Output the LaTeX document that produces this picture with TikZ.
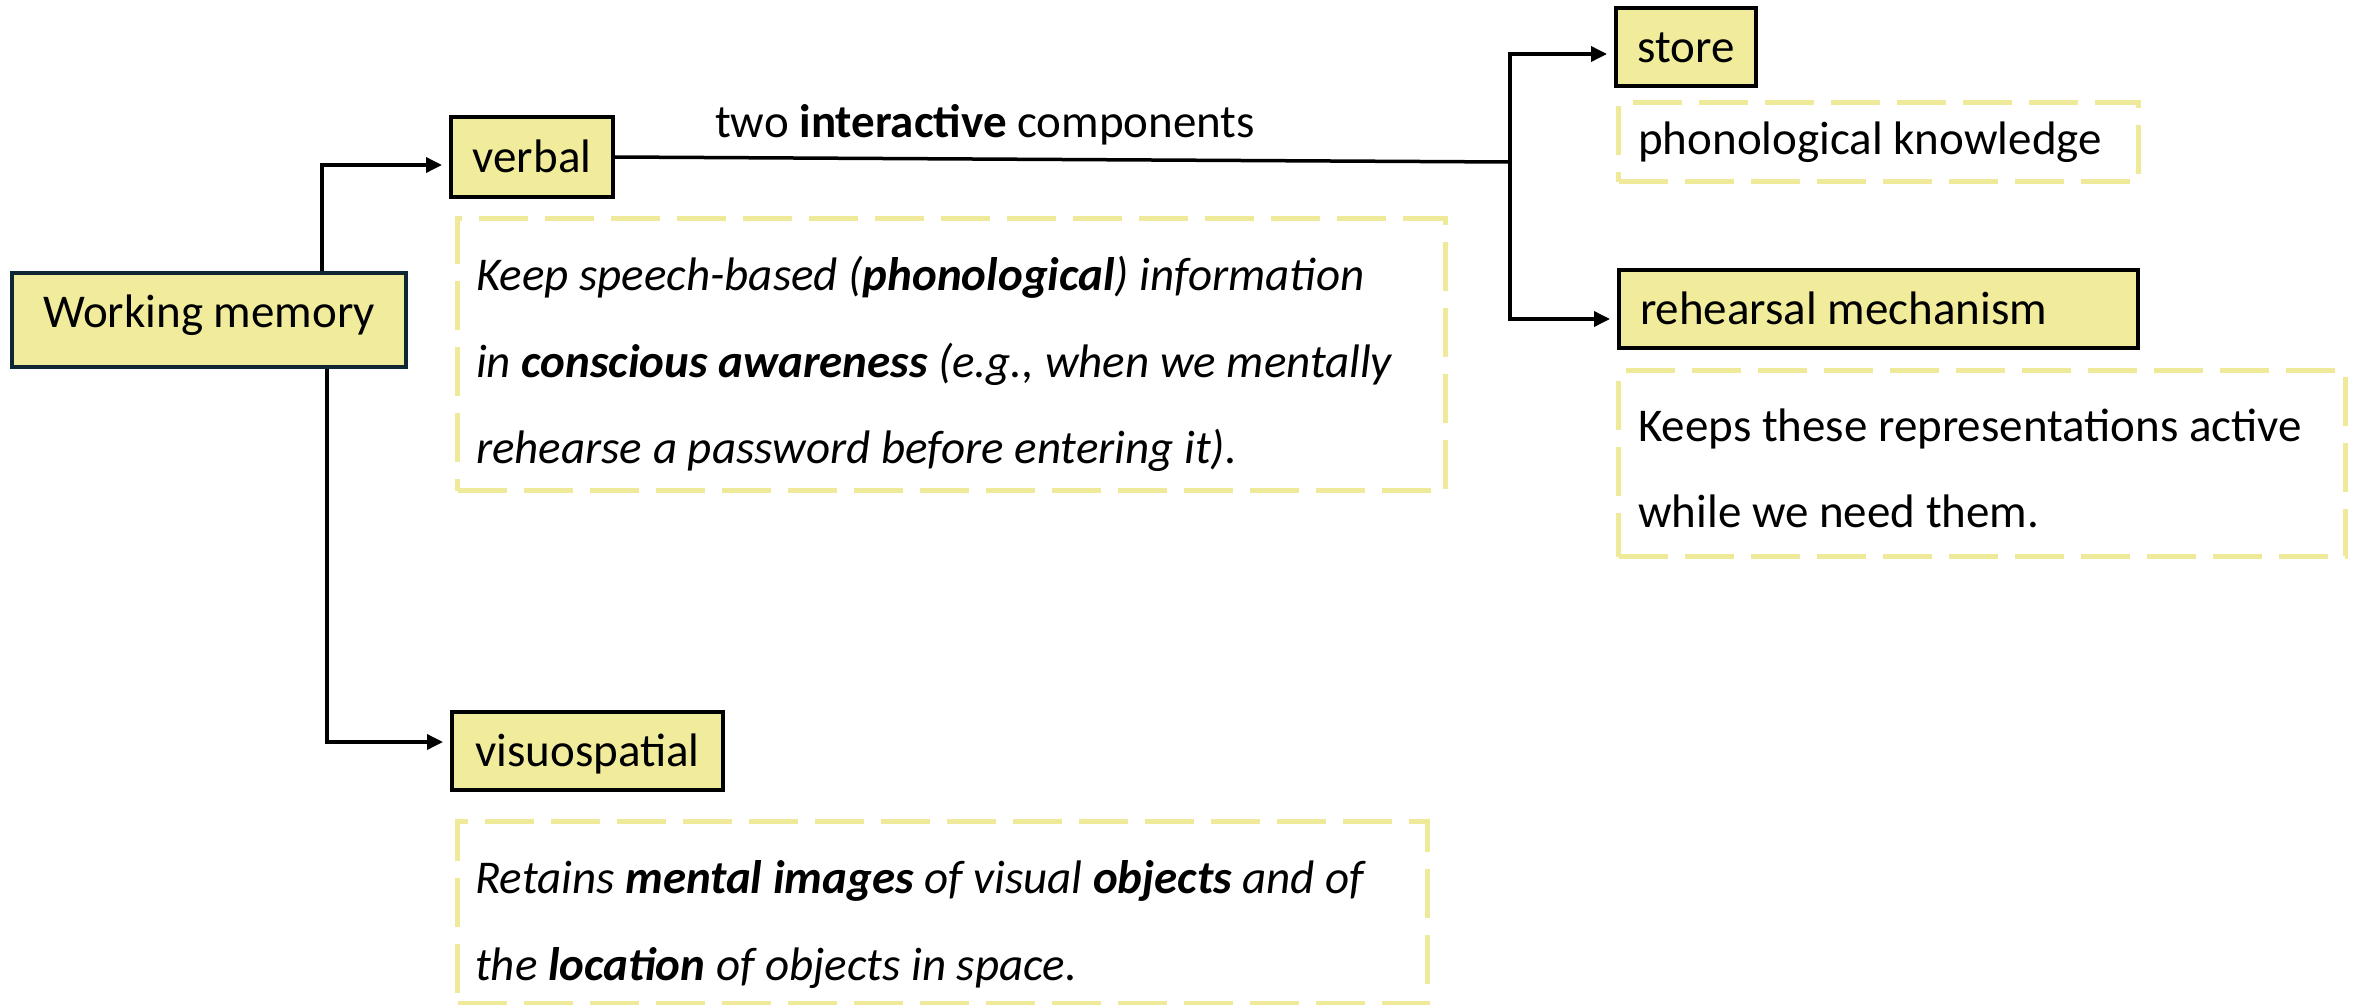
\documentclass[tikz,border=0pt]{standalone}
\usepackage{fontspec}
\setmainfont{Carlito}
\usetikzlibrary{arrows.meta}
\definecolor{boxfill}{HTML}{F0EC9C}
\definecolor{dashcol}{HTML}{EEEA9A}
\definecolor{wmline}{HTML}{0F2633}
\tikzset{
  every node/.style={font=\fontsize{47}{56}\selectfont, inner sep=0pt},
  keybox/.style={draw=black, line width=4pt, fill=boxfill, text height=36pt, text depth=6pt},
  notebox/.style={draw=dashcol, line width=5pt, dash pattern=on 49pt off 17pt, anchor=north west},
  link/.style={line width=3.5pt, draw=black},
  arr/.style={link, -{Triangle[length=16pt,width=15pt]}, shorten >=7pt},
  noteline/.style={anchor=base west, font=\fontsize{47}{56}\selectfont\itshape},
}
\begin{document}
\begin{tikzpicture}[x=1pt, y=-1pt]
\useasboundingbox (0,0) rectangle (2356,1004);

% main boxes
\node[keybox, draw=wmline, minimum width=394pt, minimum height=94pt,
      text height=30pt, text depth=16pt] (wm) at (209,320) {Working memory};
\node[keybox, minimum width=162pt, minimum height=80pt] (verbal) at (532,157) {verbal};
\node[keybox, minimum width=271pt, minimum height=78pt] (vis) at (587.5,751) {visuospatial};
\node[keybox, minimum width=140pt, minimum height=78pt] (store) at (1686,47) {store};
\node[keybox, minimum width=519pt, minimum height=78pt]
      (reh) at (1878.5,309) {\makebox[477pt][l]{rehearsal mechanism}};

% dashed description frames
\node[notebox, minimum width=988pt, minimum height=272pt] (vdesc) at (455,216) {};
\node[notebox, minimum width=970pt, minimum height=182pt] (vsdesc) at (455,819) {};
\node[notebox, minimum width=520pt, minimum height=79pt] (pdesc) at (1616,100) {};
\node[notebox, minimum width=727pt, minimum height=186pt] (rdesc) at (1616,368) {};

% description texts
\node[noteline] (v1) at (476,290) {Keep speech-based (\textbf{phonological}) information};
\node[noteline] (v2) at (476,377) {in \textbf{conscious awareness} (e.g., when we mentally};
\node[noteline] (v3) at (476,463) {rehearse a password before entering it).};
\node[noteline] (s1) at (475,893) {Retains \textbf{mental images} of visual \textbf{objects} and of};
\node[noteline] (s2) at (475,980) {the \textbf{location} of objects in space.};
\node[anchor=base west] (p1) at (1638,154) {phonological knowledge};
\node[anchor=base west] (r1) at (1638,441) {Keeps these representations active};
\node[anchor=base west] (r2) at (1638,527) {while we need them.};

% label on the verbal link
\node[anchor=base west] (twolbl) at (715,137) {two \textbf{interactive} components};

% connectors
\coordinate (upx) at (322,0);
\coordinate (downx) at (327,0);
\coordinate (fork) at (1510,162);
\draw[arr] (wm.north -| upx) |- ([yshift=-8pt]verbal.west);
\draw[arr] (wm.south -| downx) |- ([yshift=9pt]vis.west);
\draw[link] (verbal.east) -- (fork);
\draw[arr] (fork) |- ([yshift=-7pt]store.west);
\draw[arr] (fork) |- ([yshift=-10pt]reh.west);
\end{tikzpicture}
\end{document}
